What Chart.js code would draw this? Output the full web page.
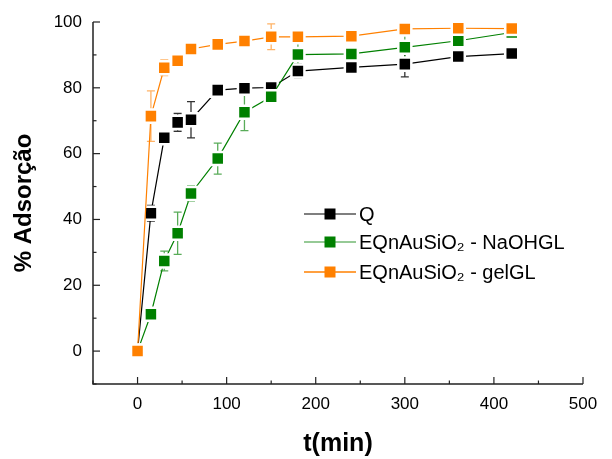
<!DOCTYPE html>
<html>
<head>
<meta charset="utf-8">
<script src="https://cdn.jsdelivr.net/npm/chart.js@4.4.0/dist/chart.umd.min.js"></script>
<style>
  html, body { margin: 0; padding: 0; background: #fff; }
  #wrap { width: 612px; height: 459px; }
</style>
</head>
<body>
<div id="wrap"><canvas id="grafico" width="612" height="459"></canvas></div>
<script>
// datos
const tiempos = [0, 15, 30, 45, 60, 90, 120, 150, 180, 240, 300, 360, 420];
const serieQ = [0, 41.9, 64.8, 69.5, 70.3, 79.3, 79.9, 80.1, 85.1, 86.2, 87.2, 89.5, 90.4];
const errQ = [0, 2.4, 0, 2.7, 5.5, 0, 1.7, 0, 2.1, 0, 3.9, 0, 0];
const serieNaOH = [0, 11.2, 27.4, 35.8, 47.9, 58.5, 72.6, 77.3, 90.1, 90.3, 92.3, 94.3, 96.8];
const errNaOH = [0, 0, 3, 6.4, 2.3, 4.7, 5.6, 0, 5.4, 0, 5.7, 0, 0];
const serieGel = [0, 71.4, 86.1, 88.2, 91.8, 93.2, 94.2, 95.5, 95.5, 95.7, 97.9, 98.1, 98];
const errGel = [0, 7.7, 2.4, 0, 0, 0, 0, 3.9, 0, 0, 0, 0, 0];
const nombres = ['Q', 'EQnAuSiO₂ - NaOHGL', 'EQnAuSiO₂ - gelGL'];
const ticksX = [0, 100, 200, 300, 400, 500];
const ticksY = [0, 20, 40, 60, 80, 100];

const fuente = "Arial, 'Liberation Sans', sans-serif";
const ctx = document.getElementById('grafico');

function puntos(valores) {
  return tiempos.map((t, i) => ({ x: t, y: valores[i] }));
}

function serie(nombre, valores, errores, color, colorErr, orden) {
  return {
    label: nombre,
    data: puntos(valores),
    errores: errores,
    colorErr: colorErr,
    borderColor: color,
    backgroundColor: color,
    borderWidth: 1.2,
    pointStyle: 'rect',
    pointRadius: 9.2,
    pointBorderColor: '#fff',
    pointBorderWidth: 2.5,
    pointBackgroundColor: color,
    tension: 0,
    clip: false,
    order: orden
  };
}

// ejes con marcas hacia adentro
const ejes = {
  id: 'ejes',
  afterDraw(chart) {
    const c = chart.ctx, a = chart.chartArea;
    const sx = chart.scales.x, sy = chart.scales.y;
    c.save();
    c.strokeStyle = '#222';
    c.lineWidth = 1.5;
    c.beginPath();
    c.moveTo(a.left, a.top);
    c.lineTo(a.left, a.bottom);
    c.lineTo(a.right, a.bottom);
    c.stroke();
    c.lineWidth = 1.2;
    for (let v = -50; v <= 500; v += 50) {
      const px = sx.getPixelForValue(v);
      const largo = v % 100 === 0 ? 7 : 3.5;
      c.beginPath();
      c.moveTo(px, a.bottom);
      c.lineTo(px, a.bottom - largo);
      c.stroke();
    }
    for (let v = -10; v <= 100; v += 10) {
      const py = sy.getPixelForValue(v);
      const largo = v % 20 === 0 ? 7 : 3.5;
      c.beginPath();
      c.moveTo(a.left, py);
      c.lineTo(a.left + largo, py);
      c.stroke();
    }
    c.restore();
  }
};

const barrasError = {
  id: 'barrasError',
  beforeDatasetsDraw(chart) {
    const c = chart.ctx;
    const sx = chart.scales.x, sy = chart.scales.y;
    c.save();
    c.lineWidth = 1.3;
    chart.data.datasets.forEach(ds => {
      c.strokeStyle = ds.colorErr;
      ds.data.forEach((p, i) => {
        const e = ds.errores[i];
        if (!e) return;
        const px = sx.getPixelForValue(p.x);
        const y1 = sy.getPixelForValue(p.y + e);
        const y2 = sy.getPixelForValue(p.y - e);
        c.beginPath();
        c.moveTo(px, y1); c.lineTo(px, y2);
        c.moveTo(px - 4, y1); c.lineTo(px + 4, y1);
        c.moveTo(px - 4, y2); c.lineTo(px + 4, y2);
        c.stroke();
      });
    });
    c.restore();
  }
};

const leyenda = {
  id: 'leyenda',
  afterDraw(chart) {
    const c = chart.ctx, a = chart.chartArea;
    const x0 = a.left + 211, x1 = a.left + 263, xm = a.left + 237;
    const filas = [a.top + 192, a.top + 220, a.top + 250];
    const lineas = ['#555', 'rgba(0,128,0,0.55)', '#ff8000'];
    const cajas = ['#000', '#008000', '#ff8000'];
    c.save();
    c.font = '20px ' + fuente;
    c.textBaseline = 'middle';
    c.fillStyle = '#000';
    filas.forEach((y, i) => {
      c.strokeStyle = lineas[i];
      c.lineWidth = 1.3;
      c.beginPath();
      c.moveTo(x0, y); c.lineTo(x1, y);
      c.stroke();
      c.fillStyle = cajas[i];
      c.fillRect(xm - 5.5, y - 5.5, 11, 11);
      c.fillStyle = '#000';
      c.fillText(nombres[i], x1 + 3, y + 1);
    });
    c.restore();
  }
};

new Chart(ctx, {
  type: 'line',
  data: {
    datasets: [
      serie(nombres[0], serieQ, errQ, '#000000', '#333', 3),
      serie(nombres[1], serieNaOH, errNaOH, '#008000', 'rgba(0,128,0,0.65)', 2),
      serie(nombres[2], serieGel, errGel, '#ff8000', 'rgba(255,128,0,0.6)', 1)
    ]
  },
  options: {
    responsive: false,
    animation: false,
    layout: { padding: { left: 0, right: 29, top: 22, bottom: 0 } },
    plugins: {
      legend: { display: false },
      tooltip: { enabled: false }
    },
    scales: {
      x: {
        type: 'linear',
        min: -50,
        max: 500,
        grid: { display: false, drawTicks: false },
        border: { display: false },
        afterBuildTicks: s => { s.ticks = ticksX.map(v => ({ value: v })); },
        afterFit: s => { s.height = 75; },
        ticks: { color: '#000', padding: 10, font: { family: fuente, size: 17 } },
        title: {
          display: true,
          text: 't(min)',
          color: '#000',
          padding: { top: 0, bottom: 0 },
          font: { family: fuente, size: 25, weight: 'bold' }
        }
      },
      y: {
        type: 'linear',
        min: -10,
        max: 100,
        grid: { display: false, drawTicks: false },
        border: { display: false },
        afterBuildTicks: s => { s.ticks = ticksY.map(v => ({ value: v })); },
        afterFit: s => { s.width = 93; },
        ticks: { color: '#000', padding: 11, font: { family: fuente, size: 17 } },
        title: {
          display: true,
          text: '% Adsorção',
          color: '#000',
          padding: { top: 10, bottom: 0 },
          font: { family: fuente, size: 24, weight: 'bold' }
        }
      }
    }
  },
  plugins: [ejes, barrasError, leyenda]
});
</script>
</body>
</html>
